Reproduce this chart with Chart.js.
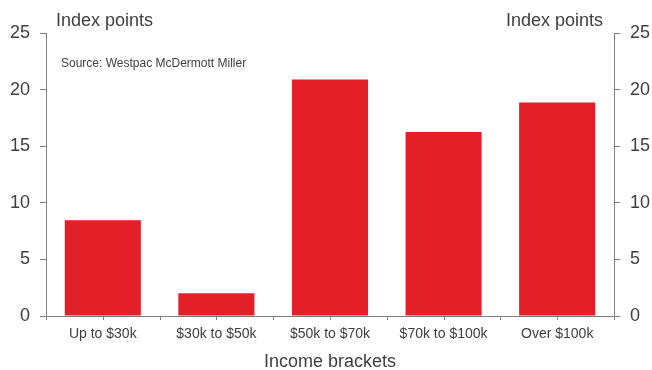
<!DOCTYPE html>
<html>
<head>
<meta charset="utf-8">
<script src="https://cdn.jsdelivr.net/npm/chart.js@4.4.1/dist/chart.umd.min.js"></script>
<style>
  html, body { margin: 0; padding: 0; background: #fff; }
  #wrap { width: 652px; height: 370px; position: relative; }
</style>
</head>
<body>
<div id="wrap"><canvas id="chart"></canvas></div>
<script>
const brackets = ['Up to $30k', '$30k to $50k', '$50k to $70k', '$70k to $100k', 'Over $100k']
const indexPoints = [8.45, 2.0, 20.9, 16.25, 18.85]
const yTicks = [0, 5, 10, 15, 20, 25]

const FONT = '"Liberation Sans", Arial, sans-serif'
const TEXT = '#404040'
const AXIS = '#7f7f7f'

// Axis captions, source note and the small tick marks under the category axis
const extras = {
  id: 'extras',
  afterDraw(chart) {
    const { ctx, scales: { x } } = chart
    ctx.save()
    ctx.fillStyle = TEXT
    ctx.font = '18px ' + FONT
    ctx.textBaseline = 'alphabetic'
    ctx.textAlign = 'left'
    ctx.fillText('Index points', 56, 26)
    ctx.textAlign = 'right'
    ctx.fillText('Index points', 603, 26)
    ctx.textAlign = 'center'
    ctx.fillText('Income brackets', (x.left + x.right) / 2, 367)
    ctx.font = '12px ' + FONT
    ctx.textAlign = 'left'
    ctx.fillText('Source: Westpac McDermott Miller', 61, 67)

    ctx.strokeStyle = AXIS
    ctx.lineWidth = 1
    const half = (x.getPixelForValue(1) - x.getPixelForValue(0)) / 2
    for (let i = 0; i < brackets.length; i++) {
      const cx = Math.round(x.getPixelForValue(i)) + 0.5
      ctx.beginPath()
      ctx.moveTo(cx, x.top)
      ctx.lineTo(cx, x.top + 4)
      ctx.stroke()
    }
    for (let i = 0; i <= brackets.length; i++) {
      const bx = Math.round(x.getPixelForValue(0) - half + i * 2 * half) + 0.5
      ctx.beginPath()
      ctx.moveTo(bx, x.top)
      ctx.lineTo(bx, x.top + 4)
      ctx.stroke()
    }
    ctx.restore()
  }
}

const yAxis = (position, width) => ({
  position,
  min: 0,
  max: 25,
  afterBuildTicks: (s) => { s.ticks = yTicks.map(v => ({ value: v })) },
  afterFit: (s) => { s.width = width },
  grid: { drawOnChartArea: false, drawTicks: true, tickLength: 6, color: AXIS },
  border: { display: true, color: AXIS, width: 1 },
  ticks: { color: TEXT, font: { family: FONT, size: 18 }, padding: 10 },
})

new Chart(document.getElementById('chart'), {
  type: 'bar',
  data: {
    labels: brackets,
    datasets: [{
      data: indexPoints,
      backgroundColor: '#e32027',
      borderWidth: 0,
      barPercentage: 0.67,
      categoryPercentage: 1.0,
      yAxisID: 'y',
    }],
  },
  options: {
    responsive: true,
    maintainAspectRatio: false,
    animation: false,
    layout: { padding: { top: 33, left: 0, right: 0, bottom: 0 } },
    plugins: { legend: { display: false }, tooltip: { enabled: false } },
    scales: {
      x: {
        afterFit: (s) => { s.height = 54 },
        grid: { display: false },
        border: { display: true, color: AXIS, width: 1 },
        ticks: { color: TEXT, font: { family: FONT, size: 14 }, padding: 2, maxRotation: 0 },
      },
      y: yAxis('left', 46),
      y2: yAxis('right', 38),
    },
  },
  plugins: [extras],
})
</script>
</body>
</html>
